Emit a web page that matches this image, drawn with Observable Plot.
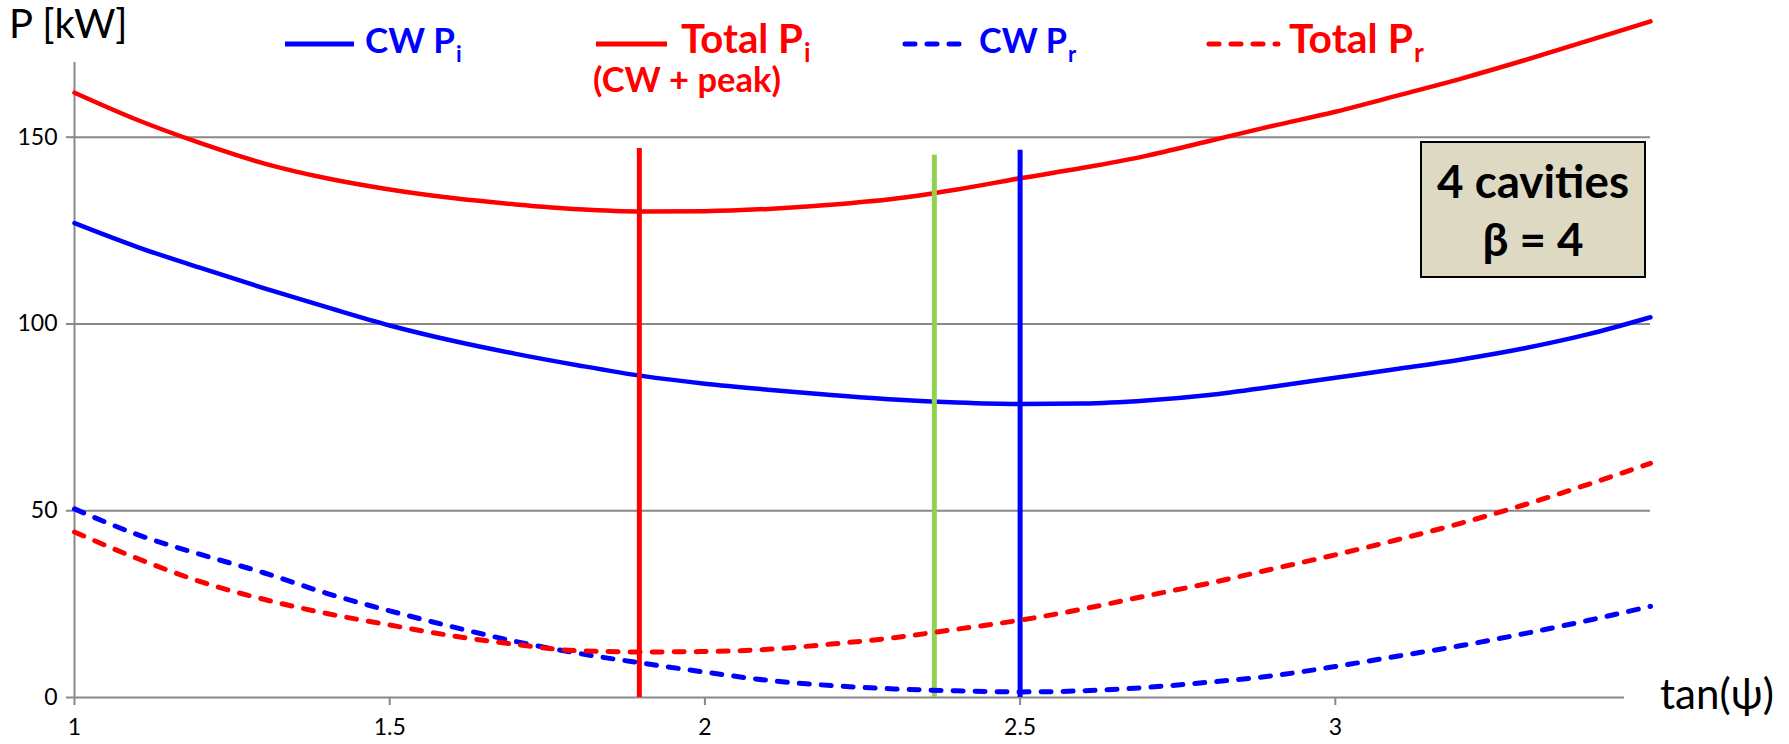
<!DOCTYPE html>
<html><head><meta charset="utf-8">
<script src="https://cdn.jsdelivr.net/npm/d3@7"></script>
<script src="https://cdn.jsdelivr.net/npm/@observablehq/plot@0.6"></script>
<style>
body{margin:0;background:#fff;}
#chart{position:relative;width:1789px;height:744px;overflow:hidden;}
</style></head><body><div id="chart"></div>
<script>
// ---- data ----
const tanPsi  = [1.0,1.1,1.2,1.3,1.4,1.5,1.6,1.7,1.8,1.9,2.0,2.1,2.2,2.3,2.4,2.5,2.6,2.7,2.8,2.9,3.0,3.1,3.2,3.3,3.4,3.5];
const cwPi    = [127.0,120.6,115.0,109.6,104.5,99.6,95.5,92.0,88.9,86.1,84.0,82.4,81.0,79.8,79.0,78.6,78.7,79.5,81.0,83.2,85.6,88.0,90.5,93.5,97.2,101.8];
const totalPi = [161.9,154.6,148.4,143.0,139.0,136.0,133.7,132.0,130.7,130.1,130.2,130.8,131.9,133.5,136.0,139.0,141.8,145.0,149.0,153.0,156.8,161.2,165.7,170.6,175.8,181.0];
const cwPr    = [50.5,43.6,38.3,33.4,27.9,23.2,18.9,15.0,11.8,9.2,6.8,4.6,3.2,2.3,1.8,1.5,1.8,2.7,4.1,5.8,8.3,11.1,13.9,17.1,20.6,24.4];
const totalPr = [44.3,37.2,31.0,26.3,22.5,19.4,16.5,14.2,12.5,12.2,12.3,12.9,14.3,16.0,18.3,20.7,23.7,27.2,30.6,34.4,38.2,42.3,46.7,51.6,57.0,62.7];
// optimum markers: x position and top of the vertical line
const optimumNames = ["Total Pi min","compromise","CW Pi min"];
const optimumX     = [1.896, 2.364, 2.5];
const optimumTop   = [147.0, 145.2, 146.5];
const xTicks = [1, 1.5, 2, 2.5, 3];
const yTicks = [0, 50, 100, 150];

// ---- styles ----
const BLUE = "#0000FF", RED = "#FF0000", GREEN = "#92D050", GRID = "#888888";
const optimumColors = [RED, GREEN, BLUE];
const FONT = "Lato, 'Open Sans', sans-serif";

const rows = tanPsi.map((x, i) => ({x, cwPi: cwPi[i], totalPi: totalPi[i], cwPr: cwPr[i], totalPr: totalPr[i]}));
const optima = optimumX.map((x, i) => ({name: optimumNames[i], x, top: optimumTop[i]}));

const dash = {strokeDasharray: "10,12", strokeLinecap: "round"};

const plot = Plot.plot({
  width: 1789, height: 744,
  marginLeft: 74, marginRight: 139, marginTop: 62, marginBottom: 47,
  x: {domain: [1, 3.5]},
  y: {domain: [0, 170]},
  style: {fontFamily: FONT, background: "#fff", overflow: "visible"},
  marks: [
    Plot.gridY(yTicks.filter(v => v > 0), {stroke: GRID, strokeOpacity: 1, strokeWidth: 2}),
    Plot.ruleX([1], {y1: 0, y2: 170, stroke: GRID, strokeWidth: 2}),
    Plot.ruleY([0], {stroke: GRID, strokeWidth: 2}),
    Plot.axisY(yTicks, {tickSize: 8, tickPadding: 9, stroke: GRID, strokeWidth: 2, fill: "#000", fontSize: 23, label: null, tickFormat: d => String(d)}),
    Plot.axisX(xTicks, {tickSize: 8, tickPadding: 13, stroke: GRID, strokeWidth: 2, fill: "#000", fontSize: 23, label: null, tickFormat: d => String(d)}),
    Plot.line(rows, {x: "x", y: "totalPi", stroke: RED, strokeWidth: 4.5, curve: "monotone-x"}),
    Plot.line(rows, {x: "x", y: "cwPi", stroke: BLUE, strokeWidth: 4.5, curve: "monotone-x"}),
    ...optima.map((d, i) => Plot.ruleX([d], {x: "x", y1: 0, y2: "top", stroke: optimumColors[i], strokeWidth: 5})),
    Plot.line(rows, {x: "x", y: "cwPr", stroke: BLUE, strokeWidth: 5, curve: "monotone-x", ...dash}),
    Plot.line(rows, {x: "x", y: "totalPr", stroke: RED, strokeWidth: 5, curve: "monotone-x", ...dash})
  ]
});
document.getElementById("chart").appendChild(plot);

// ---- annotations: legend, axis titles, info box ----
const svg = d3.select(plot);
const g = svg.append("g").attr("font-family", FONT).attr("text-anchor", "start");

function fit(text, target) {
  const w = text.node().getComputedTextLength();
  const fs = parseFloat(text.attr("font-size"));
  text.attr("font-size", (fs * target / w).toFixed(2));
  return text;
}

// axis titles
g.append("text").attr("x", 9).attr("y", 38).attr("font-size", 40).attr("fill", "#000").text("P [kW]");
g.append("rect").attr("x", 1624).attr("y", 680).attr("width", 165).attr("height", 64).attr("fill", "#fff");
fit(g.append("text").attr("x", 1660).attr("y", 709).attr("font-size", 36).attr("fill", "#000").text("tan(ψ)"), 114);

// legend
const legend = [
  {x0: 285, x1: 354, tx: 365, color: BLUE, dashed: false, main: "CW P", sub: "i", w: 90},
  {x0: 596, x1: 667, tx: 681, color: RED, dashed: false, main: "Total P", sub: "i", w: 122},
  {x0: 905, x1: 970, tx: 979, color: BLUE, dashed: true, main: "CW P", sub: "r", w: 88},
  {x0: 1209, x1: 1278, tx: 1289, color: RED, dashed: true, main: "Total P", sub: "r", w: 124}
];
legend.forEach(d => {
  const l = g.append("line").attr("x1", d.x0).attr("x2", d.x1).attr("y1", 44).attr("y2", 44)
    .attr("stroke", d.color).attr("stroke-width", 5);
  if (d.dashed) l.attr("stroke-dasharray", "10,12").attr("stroke-linecap", "round");
  const t = g.append("text").attr("x", d.tx).attr("y", 53).attr("font-size", 38)
    .attr("font-weight", "bold").attr("fill", d.color).text(d.main);
  fit(t, d.w);
  const fs = parseFloat(t.attr("font-size"));
  const w = t.node().getComputedTextLength();
  g.append("text").attr("x", d.tx + w + 1).attr("y", 62).attr("font-size", (fs * 0.64).toFixed(1))
    .attr("font-weight", "bold").attr("fill", d.color).text(d.sub);
});
fit(g.append("text").attr("x", 593).attr("y", 92).attr("font-size", 38).attr("font-weight", "bold")
  .attr("fill", RED).text("(CW + peak)"), 188);

// info box
g.append("rect").attr("x", 1421).attr("y", 142).attr("width", 224).attr("height", 135)
  .attr("fill", "#DDD9C3").attr("stroke", "#000").attr("stroke-width", 2);
const b1 = g.append("text").attr("x", 1533).attr("y", 198).attr("text-anchor", "middle")
  .attr("font-size", 44).attr("font-weight", "bold").attr("fill", "#000").text("4 cavities");
fit(b1, 192);
g.append("text").attr("x", 1533).attr("y", 256).attr("text-anchor", "middle")
  .attr("font-size", b1.attr("font-size")).attr("font-weight", "bold").attr("fill", "#000").text("β = 4");
</script></body></html>
